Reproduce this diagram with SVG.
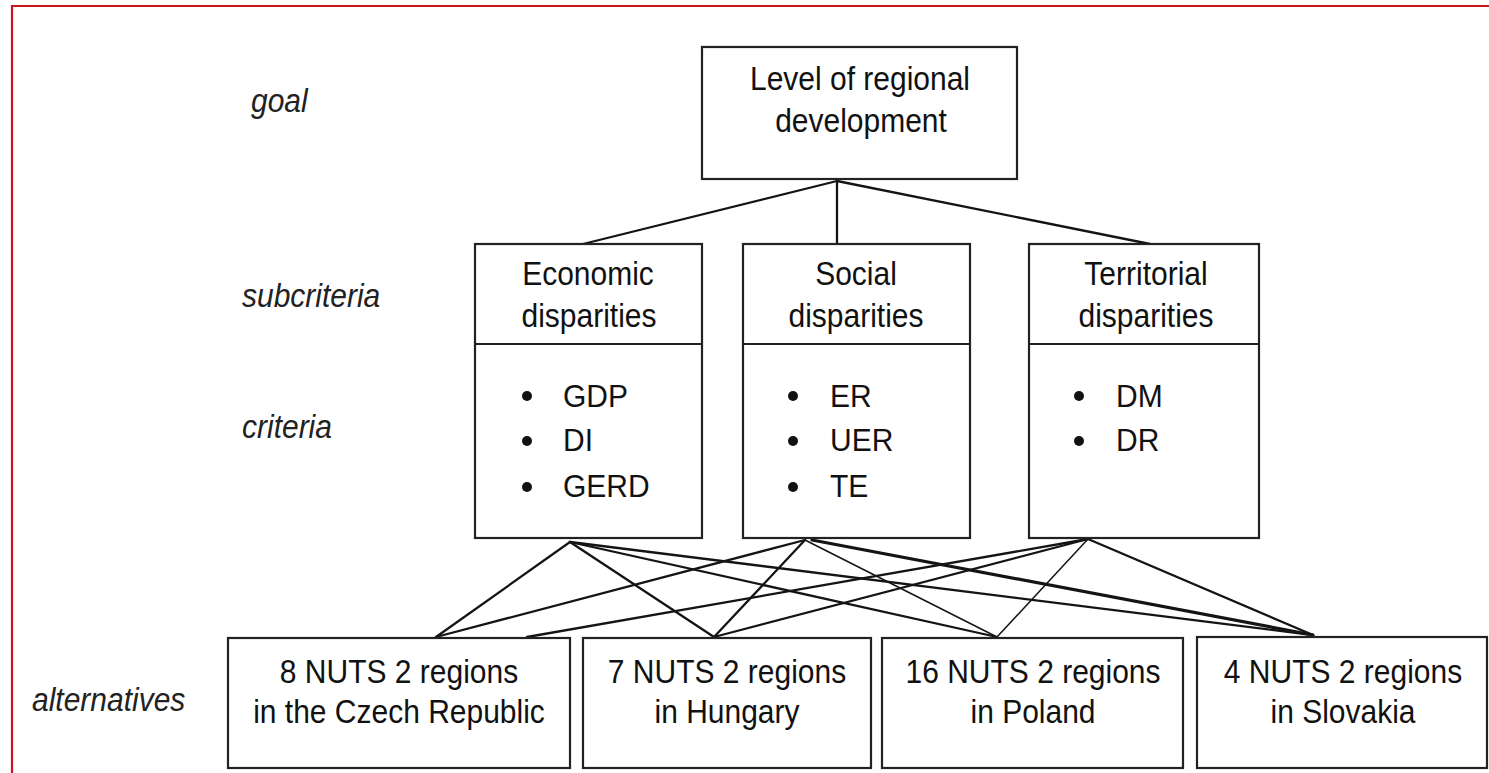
<svg xmlns="http://www.w3.org/2000/svg" width="1489" height="773" viewBox="0 0 1489 773">
  <style>
    .box { fill: #ffffff; stroke: #222222; stroke-width: 2.2; }
    .div { stroke: #222222; stroke-width: 2.2; }
    .t { font-family: "Liberation Sans", Arial, sans-serif; font-size: 30px; fill: #111111; }
    .c { text-anchor: middle; }
    .lvl { font-style: italic; fill: #222222; }
    .bul { fill: #111111; }
    .wire { stroke: #141414; stroke-width: 2.3; fill: none; stroke-linecap: round; }
    .thin { stroke-width: 1.5; }
    .heavy { stroke-width: 3.2; }
  </style>
  <rect width="1489" height="773" fill="#ffffff"/>
  <!-- frame -->
  <path d="M12 773 V6 H1489" fill="none" stroke="#c8141a" stroke-width="2.2"/>

  <!-- level labels -->
  <g id="levels">
    <text class="t lvl" transform="translate(251 112) scale(1 1.1)">goal</text>
    <text class="t lvl" transform="translate(242 307) scale(1 1.1)">subcriteria</text>
    <text class="t lvl" transform="translate(242 438) scale(1 1.1)">criteria</text>
    <text class="t lvl" transform="translate(32 711) scale(1 1.1)">alternatives</text>
  </g>

  <!-- connectors -->
  <g id="connectors">
    <line class="wire" x1="837" y1="181" x2="583" y2="244"/>
    <line class="wire" x1="837" y1="181" x2="837" y2="244"/>
    <line class="wire" x1="837" y1="181" x2="1150" y2="244"/>

    <line class="wire" x1="570" y1="542" x2="436" y2="637"/>
    <line class="wire" x1="570" y1="542" x2="714" y2="637"/>
    <line class="wire" x1="570" y1="542" x2="997" y2="637"/>
    <line class="wire" x1="570" y1="542" x2="1313" y2="635"/>

    <line class="wire" x1="805" y1="540" x2="436" y2="637"/>
    <line class="wire" x1="805" y1="540" x2="714" y2="637"/>
    <line class="wire thin" x1="805" y1="540" x2="997" y2="637"/>
    <line class="wire heavy" x1="812" y1="540" x2="1313" y2="635"/>

    <line class="wire" x1="1088" y1="539" x2="527" y2="637"/>
    <line class="wire" x1="1088" y1="539" x2="714" y2="637"/>
    <line class="wire thin" x1="1088" y1="539" x2="997" y2="637"/>
    <line class="wire" x1="1088" y1="539" x2="1313" y2="635"/>
  </g>

  <!-- goal -->
  <g id="goal">
    <rect class="box" x="702" y="47" width="315" height="132"/>
    <text class="t c" transform="translate(860 90) scale(1 1.1)">Level of regional</text>
    <text class="t c" transform="translate(861 132) scale(1 1.1)">development</text>
  </g>

  <!-- subcriteria with their criteria -->
  <g id="economic">
    <rect class="box" x="475" y="244" width="227" height="294"/>
    <line class="div" x1="475" y1="344" x2="702" y2="344"/>
    <text class="t c" transform="translate(588 285) scale(1 1.1)">Economic</text>
    <text class="t c" transform="translate(589 327) scale(1 1.1)">disparities</text>
    <circle class="bul" cx="527" cy="396" r="5"/>
    <circle class="bul" cx="527" cy="441" r="5"/>
    <circle class="bul" cx="527" cy="487" r="5"/>
    <text class="t" transform="translate(563 407) scale(1 1.05)">GDP</text>
    <text class="t" transform="translate(563 451) scale(1 1.05)">DI</text>
    <text class="t" transform="translate(563 497) scale(1 1.05)">GERD</text>
  </g>

  <g id="social">
    <rect class="box" x="743" y="244" width="227" height="294"/>
    <line class="div" x1="743" y1="344" x2="970" y2="344"/>
    <text class="t c" transform="translate(856 285) scale(1 1.1)">Social</text>
    <text class="t c" transform="translate(856 327) scale(1 1.1)">disparities</text>
    <circle class="bul" cx="793" cy="396" r="5"/>
    <circle class="bul" cx="793" cy="441" r="5"/>
    <circle class="bul" cx="793" cy="487" r="5"/>
    <text class="t" transform="translate(830 407) scale(1 1.05)">ER</text>
    <text class="t" transform="translate(830 451) scale(1 1.05)">UER</text>
    <text class="t" transform="translate(830 497) scale(1 1.05)">TE</text>
  </g>

  <g id="territorial">
    <rect class="box" x="1029" y="244" width="230" height="294"/>
    <line class="div" x1="1029" y1="344" x2="1259" y2="344"/>
    <text class="t c" transform="translate(1146 285) scale(1 1.1)">Territorial</text>
    <text class="t c" transform="translate(1146 327) scale(1 1.1)">disparities</text>
    <circle class="bul" cx="1079" cy="396" r="5"/>
    <circle class="bul" cx="1079" cy="441" r="5"/>
    <text class="t" transform="translate(1116 407) scale(1 1.05)">DM</text>
    <text class="t" transform="translate(1116 451) scale(1 1.05)">DR</text>
  </g>

  <!-- alternatives -->
  <g id="czech">
    <rect class="box" x="228" y="638" width="342" height="130"/>
    <text class="t c" transform="translate(399 683) scale(1 1.1)">8 NUTS 2 regions</text>
    <text class="t c" transform="translate(399 723) scale(1 1.1)">in the Czech Republic</text>
  </g>
  <g id="hungary">
    <rect class="box" x="583" y="638" width="288" height="130"/>
    <text class="t c" transform="translate(727 683) scale(1 1.1)">7 NUTS 2 regions</text>
    <text class="t c" transform="translate(727 723) scale(1 1.1)">in Hungary</text>
  </g>
  <g id="poland">
    <rect class="box" x="882" y="638" width="301" height="130"/>
    <text class="t c" transform="translate(1033 683) scale(1 1.1)">16 NUTS 2 regions</text>
    <text class="t c" transform="translate(1033 723) scale(1 1.1)">in Poland</text>
  </g>
  <g id="slovakia">
    <rect class="box" x="1197" y="637" width="290" height="131"/>
    <text class="t c" transform="translate(1343 683) scale(1 1.1)">4 NUTS 2 regions</text>
    <text class="t c" transform="translate(1343 723) scale(1 1.1)">in Slovakia</text>
  </g>
</svg>
